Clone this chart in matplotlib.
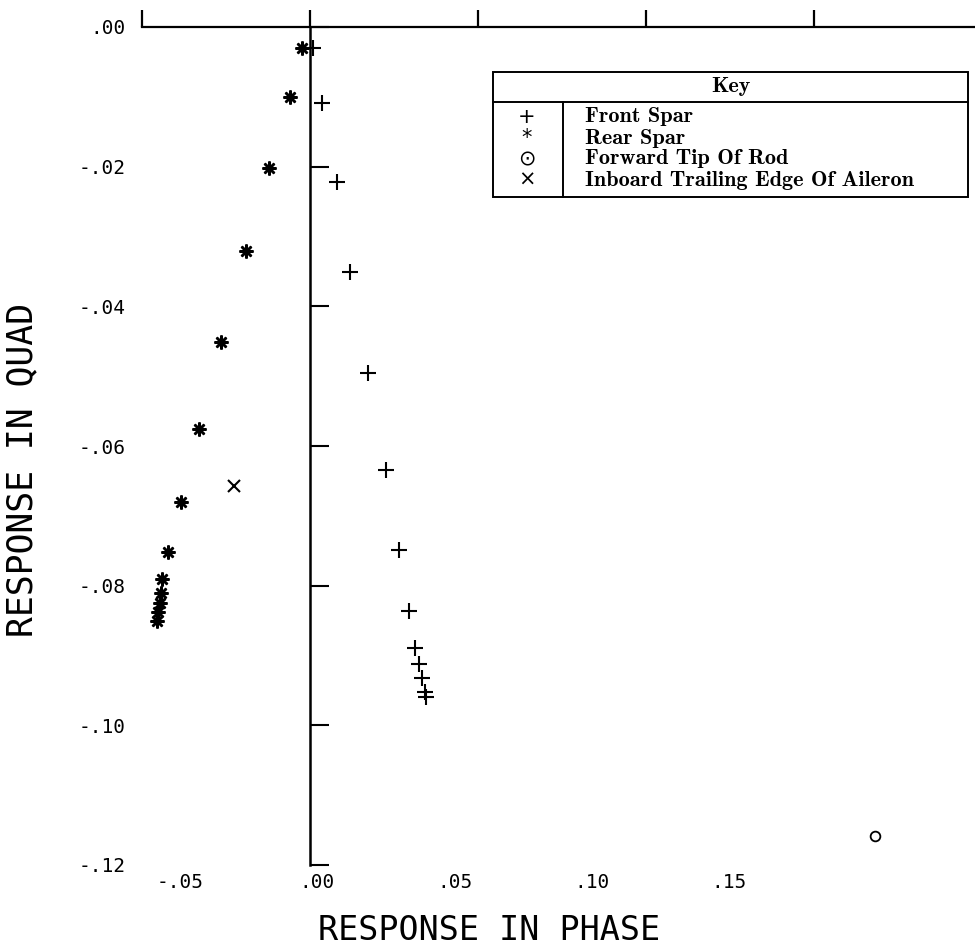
import numpy as np
import matplotlib.pyplot as plt
from matplotlib.patches import Rectangle
from matplotlib.lines import Line2D

# Данные (отклик в фазе / в квадратуре)
front_x = [-0.0015, 0.0018, 0.0073, 0.0120, 0.0185, 0.0251, 0.0298,
           0.0335, 0.0356, 0.0371, 0.0382, 0.0393, 0.0396]
front_y = [-0.0030, -0.0109, -0.0222, -0.0351, -0.0495, -0.0634, -0.0749,
           -0.0836, -0.0889, -0.0912, -0.0932, -0.0952, -0.0959]

rear_x = [-0.0055, -0.0098, -0.0175, -0.0258, -0.0349, -0.0429, -0.0495,
          -0.0542, -0.0564, -0.0567, -0.0571, -0.0578, -0.0582]
rear_y = [-0.0030, -0.0100, -0.0202, -0.0321, -0.0451, -0.0576, -0.0680,
          -0.0752, -0.0790, -0.0811, -0.0825, -0.0838, -0.0851]

tip_x = [0.2029]
tip_y = [-0.1159]

inboard_x = [-0.0302]
inboard_y = [-0.0657]

x_ticks = [-0.05, 0.0, 0.05, 0.10, 0.15]
x_labels = ['-.05', '.00', '.05', '.10', '.15']
y_ticks = [0.0, -0.02, -0.04, -0.06, -0.08, -0.10, -0.12]
y_labels = ['.00', '-.02', '-.04', '-.06', '-.08', '-.10', '-.12']

key_symbols = ['+', '*', '\u2299', '\u00d7']
key_labels = ['Front Spar', 'Rear Spar', 'Forward Tip Of Rod',
              'Inboard Trailing Edge Of Aileron']

W, H = 975, 949
MONO = 'DejaVu Sans Mono'


def px(x, y):
    # пиксели -> доли фигуры
    return x / W, 1 - y / H


fig = plt.figure(figsize=(W / 100, H / 100), dpi=100)
ax = fig.add_axes([142 / W, 1 - 865 / H, 833 / W, (865 - 27) / H])
ax.set_xlim(-0.0637, 0.2393)
ax.set_ylim(-0.12, 0)

# Точки
ax.plot(front_x, front_y, ls='none', marker='+', ms=11, mew=1.5, color='k', clip_on=False)
ax.plot(rear_x, rear_y, ls='none', marker=(8, 2, 0), ms=10, mew=1.8, color='k', clip_on=False)
ax.plot(inboard_x, inboard_y, ls='none', marker='x', ms=9, mew=1.5, color='k')
ax.plot(tip_x, tip_y, ls='none', marker='o', ms=7, mfc='none', mew=1.3, color='k')

# Оси
for s in ['right', 'bottom', 'top']:
    ax.spines[s].set_visible(False)
ax.spines['left'].set_position(('data', -0.0025))
ax.spines['left'].set_linewidth(1.8)

ax.set_yticks(y_ticks)
ax.tick_params(axis='y', direction='in', length=14, width=1.5, labelleft=False)
ax.set_xticks(x_ticks, x_labels)
ax.tick_params(axis='x', length=0, pad=6, labelsize=14)
for lab in ax.get_xticklabels():
    lab.set_family(MONO)

sec_y = ax.secondary_yaxis(0)
sec_y.set_yticks(y_ticks, y_labels)
sec_y.spines['left'].set_visible(False)
sec_y.tick_params(length=0, pad=12, labelsize=14)
for lab in sec_y.get_yticklabels():
    lab.set_family(MONO)

top_ticks = -0.0636 + 0.0611 * np.arange(5)
sec_x = ax.secondary_xaxis('top')
sec_x.set_xticks(top_ticks)
sec_x.tick_params(direction='out', length=12, width=1.6, labeltop=False)
sec_x.spines['top'].set_linewidth(1.6)

fig.text(*px(489, 930), 'RESPONSE IN PHASE', family=MONO, fontsize=24,
         ha='center', va='center')
fig.text(*px(22, 470), 'RESPONSE IN QUAD', family=MONO, fontsize=25,
         rotation=90, ha='center', va='center')

# Таблица-ключ
x0, x1, y0, y1 = 493, 968, 72, 197
bx, by = px(x0, y1)
fig.add_artist(Rectangle((bx, by), (x1 - x0) / W, (y1 - y0) / H,
                         transform=fig.transFigure, fill=False, lw=1.4, color='k'))
fig.add_artist(Line2D([x0 / W, x1 / W], [1 - 102 / H] * 2,
                      transform=fig.transFigure, lw=1.4, color='k'))
fig.add_artist(Line2D([563 / W] * 2, [1 - 102 / H, 1 - y1 / H],
                      transform=fig.transFigure, lw=1.4, color='k'))
fig.text(*px((x0 + x1) / 2, 87), 'Key', family='cmb10', fontsize=16,
         ha='center', va='center')
for i, (sym, lab) in enumerate(zip(key_symbols, key_labels)):
    yy = 117 + i * 21
    fig.text(*px(527, yy), sym, fontsize=15, ha='center', va='center')
    fig.text(*px(585, yy), lab, family='cmb10', fontsize=16,
             ha='left', va='center')

fig.savefig('out.png', dpi=100)
